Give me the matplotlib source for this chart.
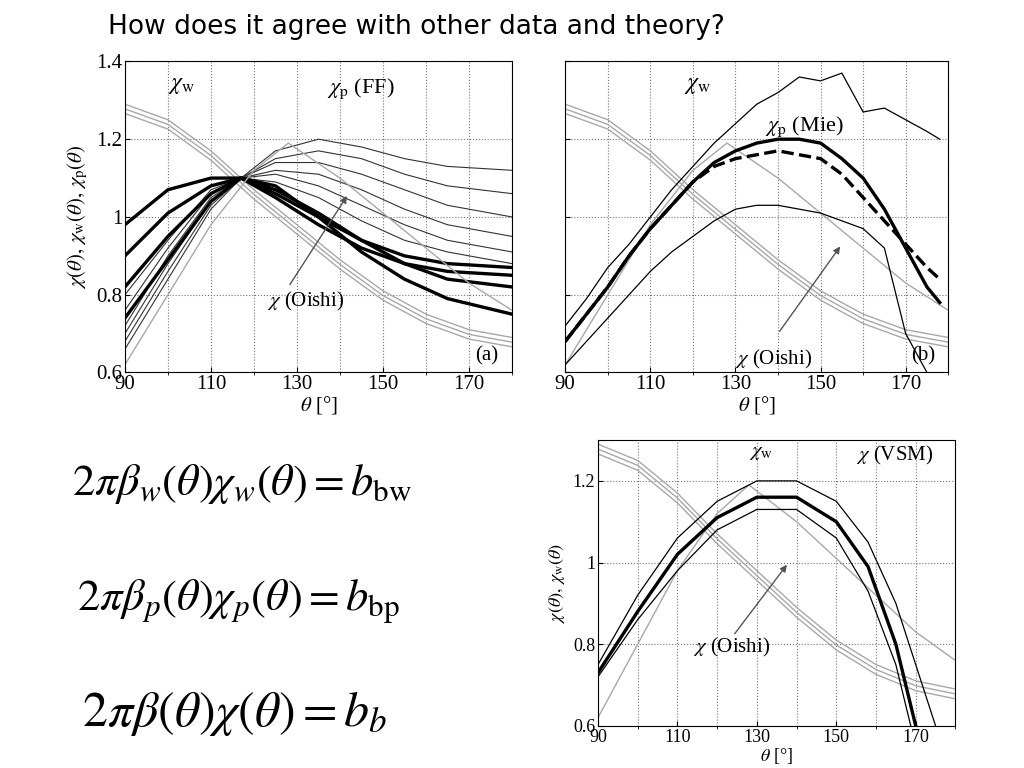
import matplotlib as mpl
mpl.use("Agg")
import matplotlib.pyplot as plt

mpl.rcParams.update({"mathtext.fontset": "stix", "font.family": "serif",
                     "font.serif": ["Liberation Serif", "DejaVu Serif"]})

# ---- data ----
THETA = [90, 100, 110, 117, 125, 135, 145, 155, 165, 180]
FF_THICK = [
    [0.98, 1.07, 1.10, 1.10, 1.05, 0.98, 0.92, 0.88, 0.86, 0.85],
    [0.90, 1.01, 1.08, 1.10, 1.06, 1.00, 0.94, 0.90, 0.88, 0.87],
    [0.82, 0.95, 1.06, 1.10, 1.07, 1.01, 0.94, 0.88, 0.84, 0.82],
    [0.74, 0.89, 1.04, 1.10, 1.08, 1.00, 0.91, 0.84, 0.79, 0.75],
]
FF_THIN = [
    [0.66, 0.84, 1.02, 1.10, 1.17, 1.20, 1.18, 1.15, 1.13, 1.12],
    [0.68, 0.86, 1.03, 1.10, 1.15, 1.17, 1.15, 1.11, 1.08, 1.06],
    [0.70, 0.88, 1.04, 1.10, 1.14, 1.14, 1.11, 1.07, 1.03, 1.00],
    [0.72, 0.90, 1.05, 1.10, 1.12, 1.11, 1.07, 1.02, 0.98, 0.95],
    [0.76, 0.92, 1.06, 1.10, 1.11, 1.08, 1.03, 0.98, 0.94, 0.91],
    [0.80, 0.94, 1.07, 1.10, 1.09, 1.05, 0.99, 0.94, 0.91, 0.88],
]
W_X = [90, 100, 110, 120, 130, 140, 150, 160, 170, 180]
CHI_W = [1.29, 1.25, 1.17, 1.07, 0.98, 0.89, 0.81, 0.75, 0.71, 0.69]
OISHI_X = [90, 100, 110, 120, 128, 140, 150, 160, 170, 180]
OISHI = [0.62, 0.80, 0.98, 1.12, 1.19, 1.10, 1.01, 0.92, 0.83, 0.76]

B_X = [90, 95, 100, 105, 110, 115, 120, 125, 130, 135, 140, 145, 150, 155, 160, 165, 170, 175, 178]
B_UP = [0.72, 0.79, 0.87, 0.93, 1.00, 1.07, 1.13, 1.19, 1.24, 1.29, 1.32, 1.36, 1.35, 1.37, 1.27, 1.28, 1.25, 1.22, 1.20]
B_MIE = [0.68, 0.75, 0.82, 0.90, 0.97, 1.03, 1.09, 1.14, 1.17, 1.19, 1.20, 1.20, 1.19, 1.15, 1.10, 1.02, 0.92, 0.82, 0.78]
B_DASH = [0.68, 0.75, 0.82, 0.90, 0.97, 1.03, 1.09, 1.13, 1.15, 1.16, 1.17, 1.16, 1.15, 1.11, 1.05, 0.99, 0.93, 0.87, 0.84]
B_LOW = [0.62, 0.68, 0.74, 0.80, 0.86, 0.91, 0.95, 0.99, 1.02, 1.03, 1.03, 1.02, 1.01, 0.99, 0.97, 0.92, 0.70, 0.60, 0.55]

C_X = [90, 100, 110, 120, 130, 140, 150, 158, 165, 170, 175]
C_UP = [0.75, 0.92, 1.06, 1.15, 1.20, 1.20, 1.15, 1.05, 0.90, 0.75, 0.60]
C_MID = [0.73, 0.88, 1.02, 1.11, 1.16, 1.16, 1.10, 0.99, 0.80, 0.60, 0.50]
C_LOW = [0.72, 0.86, 0.98, 1.08, 1.13, 1.13, 1.06, 0.93, 0.75, 0.55, 0.45]

XT = [90, 110, 130, 150, 170]
GRAY = "#a8a8a8"

fig = plt.figure(figsize=(10.24, 7.68), dpi=100)
fig.text(0.105, 0.965, "How does it agree with other data and theory?",
         fontsize=19, family="DejaVu Sans", va="center")

def setup(ax, ylim, yt, ylab=None, ytl=True, fs=15):
    ax.set_xlim(90, 180); ax.set_ylim(*ylim)
    ax.set_xticks(XT); ax.set_yticks(yt)
    ax.set_xticks(range(90, 181, 10), minor=True)
    ax.grid(True, which="both", ls=":", color="#777", lw=0.8)
    ax.tick_params(labelsize=fs, direction="in", pad=2)
    if not ytl:
        ax.set_yticklabels([])
    else:
        ax.set_yticklabels([("%g" % v) for v in yt])
    ax.set_xlabel(r"$\theta$ [°]", fontsize=fs, labelpad=0)
    if ylab:
        ax.set_ylabel(ylab, fontsize=fs)

def wlines(ax):
    for d in (0.0, 0.012, 0.024):
        ax.plot(W_X, [v - d for v in CHI_W], color=GRAY, lw=1.0)

# (a)
axa = fig.add_axes([0.122, 0.515, 0.378, 0.405])
setup(axa, (0.6, 1.4), [0.6, 0.8, 1, 1.2, 1.4],
      r"$\chi(\theta),\,\chi_{\rm w}(\theta),\,\chi_{\rm p}(\theta)$")
wlines(axa)
for c in FF_THIN:
    axa.plot(THETA, c, color="#333", lw=0.8)
for c in FF_THICK:
    axa.plot(THETA, c, color="k", lw=2.4)
axa.plot(OISHI_X, OISHI, color=GRAY, lw=1.0)
axa.text(100, 1.33, r"$\chi_{\rm w}$", fontsize=17)
axa.text(137, 1.32, r"$\chi_{\rm p}$ (FF)", fontsize=16)
axa.text(123, 0.77, r"$\chi$ (Oishi)", fontsize=15)
axa.annotate("", xy=(142, 1.06), xytext=(128, 0.82),
             arrowprops=dict(arrowstyle="-|>", color="#555", lw=1))
axa.text(174, 0.63, "(a)", fontsize=15, ha="center")

# (b)
axb = fig.add_axes([0.552, 0.515, 0.374, 0.405])
setup(axb, (0.6, 1.4), [0.6, 0.8, 1, 1.2, 1.4], ytl=False)
wlines(axb)
axb.plot(OISHI_X, OISHI, color=GRAY, lw=1.0)
axb.plot(B_X, B_UP, color="k", lw=0.9)
axb.plot(B_X, B_LOW, color="k", lw=0.9)
axb.plot(B_X, B_MIE, color="k", lw=2.4)
axb.plot(B_X, B_DASH, color="k", lw=2.4, ls="--")
axb.text(118, 1.33, r"$\chi_{\rm w}$", fontsize=17)
axb.text(137, 1.22, r"$\chi_{\rm p}$ (Mie)", fontsize=16)
axb.text(130, 0.62, r"$\chi$ (Oishi)", fontsize=15)
axb.annotate("", xy=(155, 0.93), xytext=(140, 0.70),
             arrowprops=dict(arrowstyle="-|>", color="#555", lw=1))
axb.text(174, 0.63, "(b)", fontsize=15, ha="center")

# (c)
axc = fig.add_axes([0.584, 0.055, 0.349, 0.372])
setup(axc, (0.6, 1.3), [0.6, 0.8, 1, 1.2],
      r"$\chi(\theta),\,\chi_{\rm w}(\theta)$", fs=13)
wlines(axc)
axc.plot(OISHI_X, OISHI, color=GRAY, lw=1.0)
axc.plot(C_X, C_UP, color="k", lw=0.9)
axc.plot(C_X, C_LOW, color="k", lw=0.9)
axc.plot(C_X, C_MID, color="k", lw=2.4)
axc.text(128, 1.26, r"$\chi_{\rm w}$", fontsize=15)
axc.text(155, 1.25, r"$\chi$ (VSM)", fontsize=15)
axc.text(114, 0.78, r"$\chi$ (Oishi)", fontsize=15)
axc.annotate("", xy=(138, 1.0), xytext=(124, 0.82),
             arrowprops=dict(arrowstyle="-|>", color="#555", lw=1))

# equations
fig.text(0.07, 0.355, r"$2\pi\beta_w(\theta)\chi_w(\theta) = b_{\rm bw}$", fontsize=32)
fig.text(0.075, 0.205, r"$2\pi\beta_p(\theta)\chi_p(\theta) = b_{\rm bp}$", fontsize=32)
fig.text(0.08, 0.055, r"$2\pi\beta(\theta)\chi(\theta) = b_b$", fontsize=36)

fig.savefig("out.png", dpi=100)
